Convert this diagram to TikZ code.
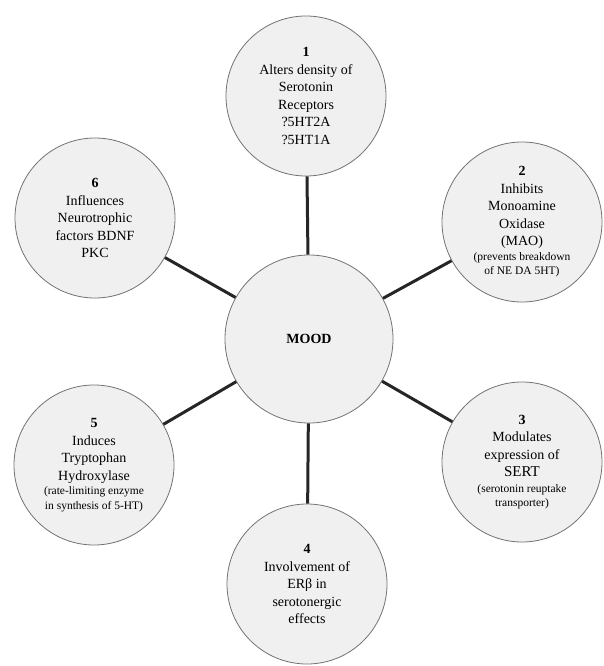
\documentclass[tikz,border=0pt]{standalone}
\usepackage{fontspec}
\setmainfont{Liberation Serif}
\newfontfamily\tms{Liberation Serif}
\newcommand{\smf}{\fontsize{11.5}{14}\selectfont}
\begin{document}
\begin{tikzpicture}[x=1pt,y=-1pt,
  bub/.style={circle, draw=black!55, line width=0.8pt, fill=black!6,
    minimum size=160pt, inner sep=0pt, align=center,
    font=\tms\fontsize{14}{17.5}\selectfont},
  conn/.style={line width=3pt, draw=black!85}]
\useasboundingbox (0,0) rectangle (603,666);
\node[bub, minimum size=168pt] (mood) at (309,339) {\textbf{MOOD}};
\node[bub] (c1) at (306,96) {\textbf{1}\\Alters density of\\Serotonin\\Receptors\\?5HT2A\\?5HT1A};
\node[bub] (c2) at (522,222) {\textbf{2}\\Inhibits\\Monoamine\\Oxidase\\(MAO)\\[-3pt]{\smf (prevents breakdown}\\[-3pt]{\smf of NE DA 5HT)}};
\node[bub] (c3) at (522,462) {\textbf{3}\\Modulates\\expression of\\{\fontsize{15}{17.5}\selectfont SERT}\\[-2pt]{\smf (serotonin reuptake}\\[-3pt]{\smf transporter)}};
\node[bub] (c4) at (307,584) {\textbf{4}\\Involvement of\\ERβ in\\serotonergic\\effects};
\node[bub] (c5) at (94,465) {\textbf{5}\\Induces\\Tryptophan\\Hydroxylase\\[-3pt]{\smf (rate-limiting enzyme}\\[-3pt]{\smf in synthesis of 5-HT)}};
\node[bub] (c6) at (95,218) {\textbf{6}\\Influences\\Neurotrophic\\factors BDNF\\PKC};
\foreach \c in {c1,c2,c3,c4,c5,c6} \draw[conn] (mood) -- (\c);
\end{tikzpicture}
\end{document}
